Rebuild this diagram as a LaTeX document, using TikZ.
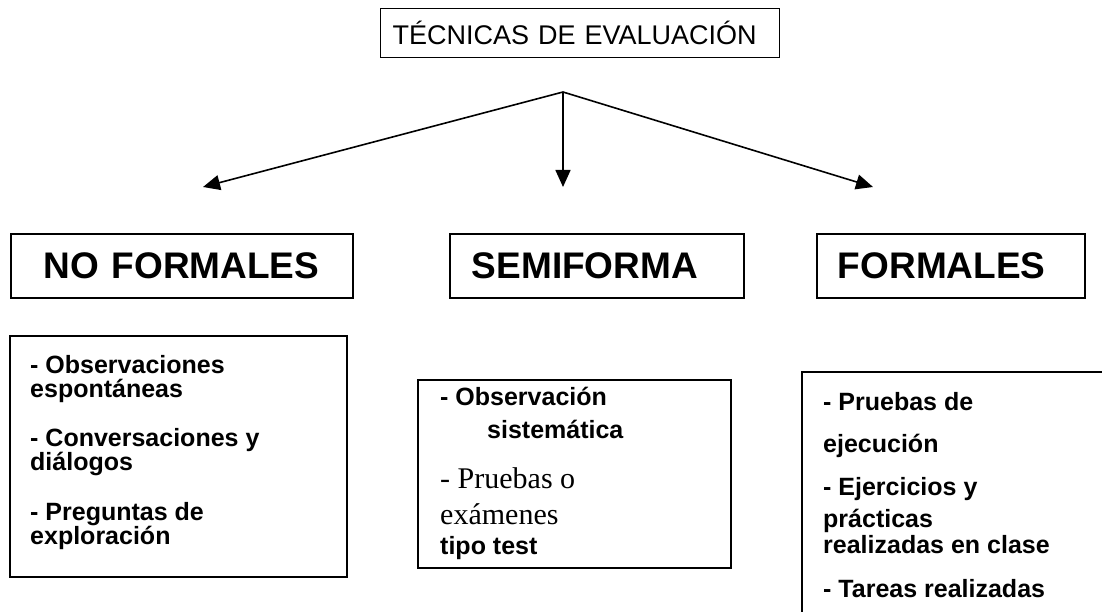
\documentclass[tikz,border=0pt]{standalone}
\usepackage{fontspec}
\setmainfont{Liberation Sans}
\newfontfamily\timesfont{Liberation Serif}
\usetikzlibrary{arrows.meta}

\begin{document}
\begin{tikzpicture}[x=1pt,y=-1pt,
    titlebox/.style={draw, line width=1.1pt, anchor=north west, align=left,
        minimum height=49pt, inner ysep=0pt, font=\fontsize{27}{30}\selectfont},
    headbox/.style={draw, line width=1.8pt, anchor=north west, align=left,
        minimum height=64pt, inner ysep=0pt, font=\fontsize{37}{40}\selectfont\bfseries},
    frame/.style={line width=1.5pt},
    listtext/.style={anchor=north west, align=left, inner sep=0pt},
    branch/.style={-{Triangle[length=17pt,width=15pt]}, line width=1.6pt}]
    \useasboundingbox (0,0) rectangle (1102,612);

    %title
    \node[titlebox, text width=375pt, inner xsep=12pt] (title) at (380,8) {TÉCNICAS DE EVALUACIÓN};

    %headings
    \node[headbox, text width=276pt, inner xsep=33pt] (noformal) at (10,233) {NO FORMALES};
    \node[headbox, text width=250pt, inner xsep=22pt] (semiformal) at (449,233) {SEMIFORMA};
    \node[headbox, text width=226pt, inner xsep=21pt] (formal) at (816,233) {FORMALES};

    %arrows
    \coordinate (fork) at (563,92);
    \coordinate (nftip) at (203,187);
    \coordinate (sftip) at (563,187);
    \coordinate (ftip) at (873,187);
    \draw[branch] (fork) -- (nftip);
    \draw[branch] (fork) -- (sftip);
    \draw[branch] (fork) -- (ftip);

    %no formales
    \draw[frame] (10,336) rectangle (347,577);
    \node[listtext, font=\fontsize{25}{24}\selectfont\bfseries] (nflist) at (30,355)
        {- Observaciones\\espontáneas\\[25pt]- Conversaciones y\\diálogos\\[26pt]- Preguntas de\\exploración};

    %semiforma
    \draw[frame] (418,380) rectangle (731,568);
    \node[listtext, font=\fontsize{25}{30}\selectfont\bfseries] (sflist) at (440,387)
        {- Observación\\[3pt]\hspace*{47pt}sistemática\\[20pt]{\timesfont\mdseries\fontsize{30}{30}\selectfont - Pruebas o}\\[6pt]{\timesfont\mdseries\fontsize{30}{30}\selectfont exámenes}\\tipo test};

    %formales
    \begin{scope}
        \clip (0,0) rectangle (1102,612);
        \draw[frame] (802,372) rectangle (1130,640);
    \end{scope}
    \node[listtext, font=\fontsize{25}{26}\selectfont\bfseries] (flist) at (823,392)
        {- Pruebas de\\[16pt]ejecución\\[17pt]- Ejercicios y\\[6pt]prácticas\\realizadas en clase\\[18pt]- Tareas realizadas};
\end{tikzpicture}
\end{document}
